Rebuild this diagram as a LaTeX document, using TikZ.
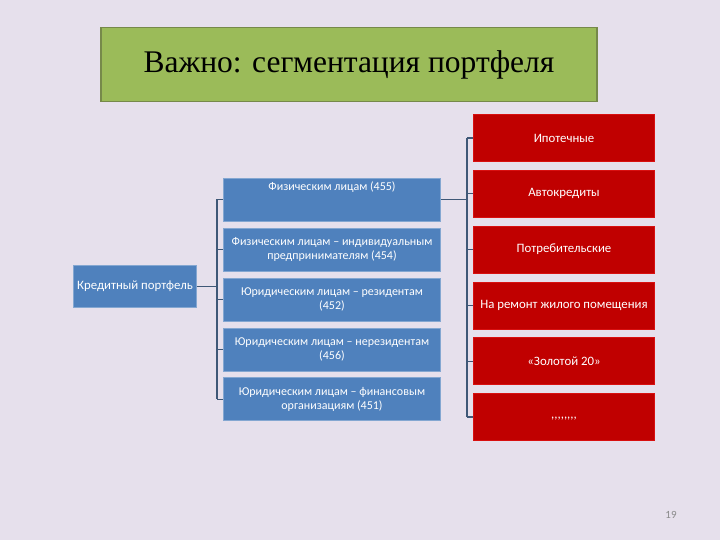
\documentclass[tikz,border=0pt]{standalone}
\usepackage{fontspec}
\setmainfont{Liberation Serif}
\newfontfamily\bodyfont{Carlito}
\usepackage{tikz}
\usetikzlibrary{positioning}
\definecolor{Lavender}{HTML}{E6E0EC}
\definecolor{TitleGreen}{HTML}{9BBB59}
\definecolor{TitleEdge}{HTML}{76894A}
\definecolor{SegBlue}{HTML}{4F81BD}
\definecolor{SegRed}{HTML}{C00000}
\definecolor{RedEdge}{HTML}{D81010}
\definecolor{LinkBlue}{HTML}{3F5877}
\definecolor{PageGray}{HTML}{8A8A8A}

\begin{document}
\begin{tikzpicture}[
    x=1pt, y=-1pt,
    font=\bodyfont\fontsize{12}{14}\selectfont,
    title/.style={rectangle, draw=TitleEdge, line width=1.5pt, fill=TitleGreen, minimum width=496pt, minimum height=74pt, font=\fontsize{31.5}{36}\selectfont},
    root/.style={rectangle, draw=SegBlue!70!white, line width=0.4pt, fill=SegBlue, text=white, align=center, minimum width=123pt, minimum height=42pt, inner sep=1pt, font=\bodyfont\fontsize{12.8}{15}\selectfont},
    seg/.style={rectangle, draw=SegBlue!70!white, line width=0.4pt, fill=SegBlue, text=white, align=center, minimum width=217pt, minimum height=43pt, inner sep=1pt},
    kind/.style={rectangle, draw=RedEdge, line width=0.8pt, fill=SegRed, text=white, align=center, minimum width=181pt, minimum height=47pt, inner sep=1pt, font=\bodyfont\fontsize{12.8}{15}\selectfont},
    link/.style={line width=1.2pt, draw=LinkBlue}
]
\fill[Lavender] (0,0) rectangle (720,540);
\useasboundingbox (0,0) rectangle (720,540);

\node[title] (head) at (349,64.5) {Важно: сегментация портфеля};

\node[root] (kp) at (135,286.5) {Кредитный портфель};

\node[seg] (m1) at (332,199.5) {Физическим лицам (455)\\[1.1em]\mbox{}};
\node[seg, below=6.5pt of m1] (m2) {Физическим лицам – индивидуальным\\предпринимателям (454)};
\node[seg, below=6.5pt of m2] (m3) {Юридическим лицам – резидентам\\(452)};
\node[seg, below=6.5pt of m3] (m4) {Юридическим лицам – нерезидентам\\(456)};
\node[seg, below=6.5pt of m4] (m5) {Юридическим лицам – финансовым\\организациям (451)};

\node[kind] (r1) at (564,138) {Ипотечные};
\node[kind, below=8pt of r1] (r2) {Автокредиты};
\node[kind, below=8pt of r2] (r3) {Потребительские};
\node[kind, below=8pt of r3] (r4) {На ремонт жилого помещения};
\node[kind, below=8pt of r4] (r5) {«Золотой 20»};
\node[kind, below=8pt of r5] (r6) {\raisebox{-4pt}{,,,,,,,,}};

\node[font=\bodyfont\fontsize{11}{13}\selectfont, text=PageGray] (page) at (671,515) {19};

% left bracket
\coordinate (lbus) at (217,0);
\draw[link] (kp.east) -- (kp.east -| lbus);
\draw[link] (m1.west -| lbus) -- (m5.west -| lbus);
\foreach \i in {1,...,5}
    \draw[link] (m\i.west -| lbus) -- (m\i.west);

% right bracket
\coordinate (rbus) at (467,0);
\draw[link] (m1.east) -- (m1.east -| rbus);
\draw[link] (r1.west -| rbus) -- (r6.west -| rbus);
\foreach \i in {1,...,6}
    \draw[link] (r\i.west -| rbus) -- (r\i.west);
\end{tikzpicture}
\end{document}
